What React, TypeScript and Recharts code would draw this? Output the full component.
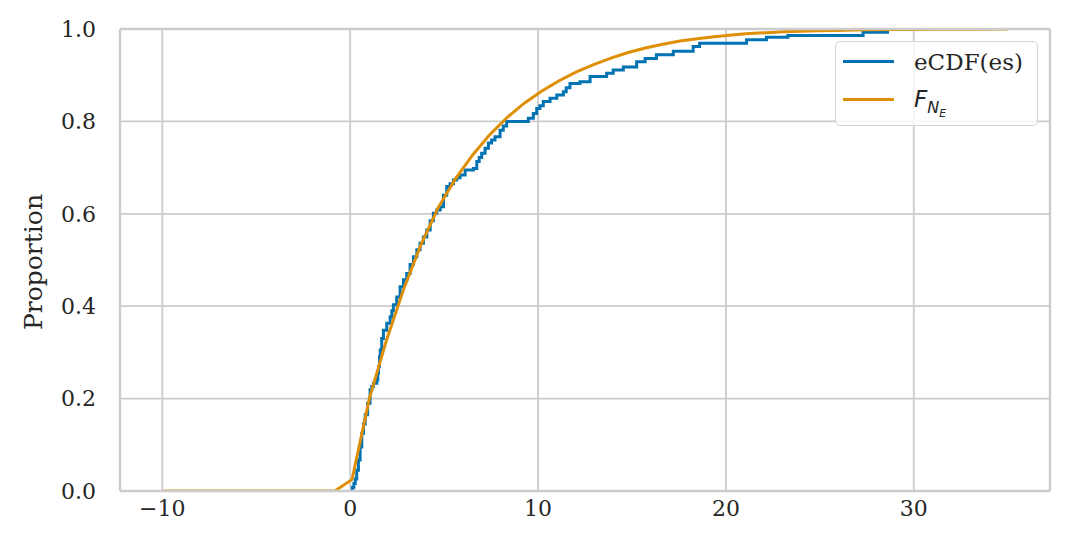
import { LineChart, Line, XAxis, YAxis, CartesianGrid, Legend, ReferenceLine } from "recharts";

const ecdfX = [
  0.09, 0.12, 0.2, 0.27, 0.35, 0.44, 0.53, 0.62, 0.71, 0.8, 0.93, 1.06, 1.15, 1.24, 1.42, 1.47, 1.51,
  1.56, 1.6, 1.68, 1.77, 1.95, 2.13, 2.22, 2.3, 2.48, 2.66, 2.84, 3.01, 3.19, 3.37, 3.55, 3.72, 3.9,
  4.08, 4.26, 4.43, 4.61, 4.79, 4.97, 5.14, 5.32, 5.5, 5.67, 5.85, 6.12, 6.56, 6.74, 6.87, 7.0, 7.18,
  7.36, 7.53, 7.71, 7.98, 8.15, 8.33, 9.48, 9.75, 9.93, 10.1, 10.28, 10.64, 11.0, 11.35, 11.5, 11.7,
  12.23, 12.77, 13.65, 14.0, 14.54, 15.25, 15.7, 16.3, 17.2, 18.26, 18.6, 21.1, 22.16, 23.3, 27.3, 28.6,
];
const ecdfY = [
  0, 0.008, 0.016, 0.026, 0.045, 0.067, 0.095, 0.125, 0.145, 0.165, 0.19, 0.219, 0.226, 0.233, 0.24,
  0.255, 0.269, 0.29, 0.305, 0.33, 0.348, 0.363, 0.377, 0.39, 0.403, 0.42, 0.442, 0.457, 0.471, 0.49,
  0.507, 0.522, 0.536, 0.55, 0.565, 0.585, 0.601, 0.608, 0.615, 0.64, 0.659, 0.665, 0.673, 0.678, 0.684,
  0.695, 0.698, 0.713, 0.722, 0.731, 0.742, 0.753, 0.76, 0.767, 0.781, 0.79, 0.8, 0.807, 0.817, 0.828,
  0.834, 0.843, 0.85, 0.857, 0.864, 0.873, 0.882, 0.886, 0.897, 0.904, 0.911, 0.918, 0.929, 0.936,
  0.944, 0.952, 0.962, 0.969, 0.977, 0.982, 0.986, 0.993, 1.0,
];

// fitted CDF F_{N_E}, evaluated on the grid used in the plot
const cdfX = [
  -10, -0.816, 0.102, 1.02, 1.939, 2.857, 3.776, 4.694, 5.612, 6.531, 7.449, 8.367, 9.286, 10.204,
  11.122, 12.041, 12.959, 13.878, 14.796, 15.714, 16.633, 17.551, 18.469, 19.388, 20.306, 21.224,
  22.143, 23.061, 23.98, 24.898, 25.816, 26.735, 27.653, 29.49, 31.327, 33.163, 35,
];
const cdfY = [
  0, 0, 0.025, 0.2, 0.327, 0.438, 0.534, 0.614, 0.676, 0.728, 0.772, 0.809, 0.84, 0.866, 0.888, 0.907,
  0.923, 0.937, 0.949, 0.959, 0.967, 0.974, 0.979, 0.983, 0.987, 0.99, 0.992, 0.994, 0.995, 0.996,
  0.997, 0.998, 0.9985, 0.999, 0.9994, 0.9997, 0.9998,
];

const xTicks = [-10, 0, 10, 20, 30];
const yTicks = [0, 0.2, 0.4, 0.6, 0.8, 1.0];
const xDomain = [-12.25, 37.25];

const ecdfData = ecdfX.map((x, i) => ({ x, y: ecdfY[i] }));
const cdfData = cdfX.map((x, i) => ({ x, y: cdfY[i] }));

const BLUE = "#0173b2";
const ORANGE = "#de8f05";
const GRID = "#cccccc";
const TEXT = "#262626";
const SERIF = "'DejaVu Serif', serif";

function LegendBox() {
  return (
    <div
      style={{
        width: 201,
        height: 83,
        background: "rgba(255,255,255,0.8)",
        border: "1px solid #d6d6d6",
        borderRadius: 5,
        position: "relative",
        color: TEXT,
      }}
    >
      <div style={{ position: "absolute", left: 7, top: 18, width: 51, height: 3, background: BLUE }} />
      <div style={{ position: "absolute", left: 78, top: 3, fontFamily: SERIF, fontSize: 23, lineHeight: "34px" }}>
        eCDF(es)
      </div>
      <div style={{ position: "absolute", left: 7, top: 56, width: 51, height: 3, background: ORANGE }} />
      <div
        style={{
          position: "absolute",
          left: 78,
          top: 40,
          fontFamily: "'DejaVu Sans', sans-serif",
          fontStyle: "italic",
          fontSize: 23,
          lineHeight: "34px",
        }}
      >
        F
        <span style={{ fontSize: 16, position: "relative", top: 6 }}>
          N<span style={{ fontSize: 11, position: "relative", top: 4 }}>E</span>
        </span>
      </div>
    </div>
  );
}

export default function App() {
  return (
    <div style={{ position: "absolute", left: 0, top: 0, width: 1069, height: 557, background: "#fff" }}>
      <LineChart width={1069} height={557} margin={{ top: 29, right: 19, bottom: 0, left: 0 }}>
        <CartesianGrid stroke={GRID} strokeWidth={1.8} />
        <XAxis
          type="number"
          dataKey="x"
          domain={xDomain}
          ticks={xTicks}
          allowDataOverflow
          height={66}
          tickSize={0}
          tickMargin={9}
          axisLine={{ stroke: GRID, strokeWidth: 2.4 }}
          tick={{ fill: TEXT, fontSize: 22, fontFamily: SERIF }}
          tickFormatter={(v: number) => (v < 0 ? "\u2212" + Math.abs(v) : String(v))}
        />
        <YAxis
          type="number"
          dataKey="y"
          domain={[0, 1]}
          ticks={yTicks}
          allowDataOverflow
          width={120}
          tickSize={0}
          tickMargin={24}
          axisLine={{ stroke: GRID, strokeWidth: 2.4 }}
          tick={{ fill: TEXT, fontSize: 22, fontFamily: SERIF }}
          tickFormatter={(v: number) => v.toFixed(1)}
          label={() => (
            <text
              x={33}
              y={262}
              transform="rotate(-90 33 262)"
              textAnchor="middle"
              dominantBaseline="central"
              fill={TEXT}
              fontSize={25}
              fontFamily={SERIF}
            >
              Proportion
            </text>
          )}
        />
        <Line
          data={ecdfData}
          dataKey="y"
          type="stepAfter"
          stroke={BLUE}
          strokeWidth={3}
          dot={false}
          isAnimationActive={false}
        />
        <Line
          data={cdfData}
          dataKey="y"
          type="linear"
          stroke={ORANGE}
          strokeWidth={3}
          dot={false}
          isAnimationActive={false}
        />
        <ReferenceLine y={1} stroke={GRID} strokeWidth={2.4} />
        <ReferenceLine x={xDomain[1]} stroke={GRID} strokeWidth={2.4} />
        <Legend
          layout="vertical"
          align="center"
          verticalAlign="middle"
          wrapperStyle={{ position: "absolute", left: 835, top: 41, width: 203, height: 85 }}
          content={() => <LegendBox />}
        />
      </LineChart>
    </div>
  );
}
